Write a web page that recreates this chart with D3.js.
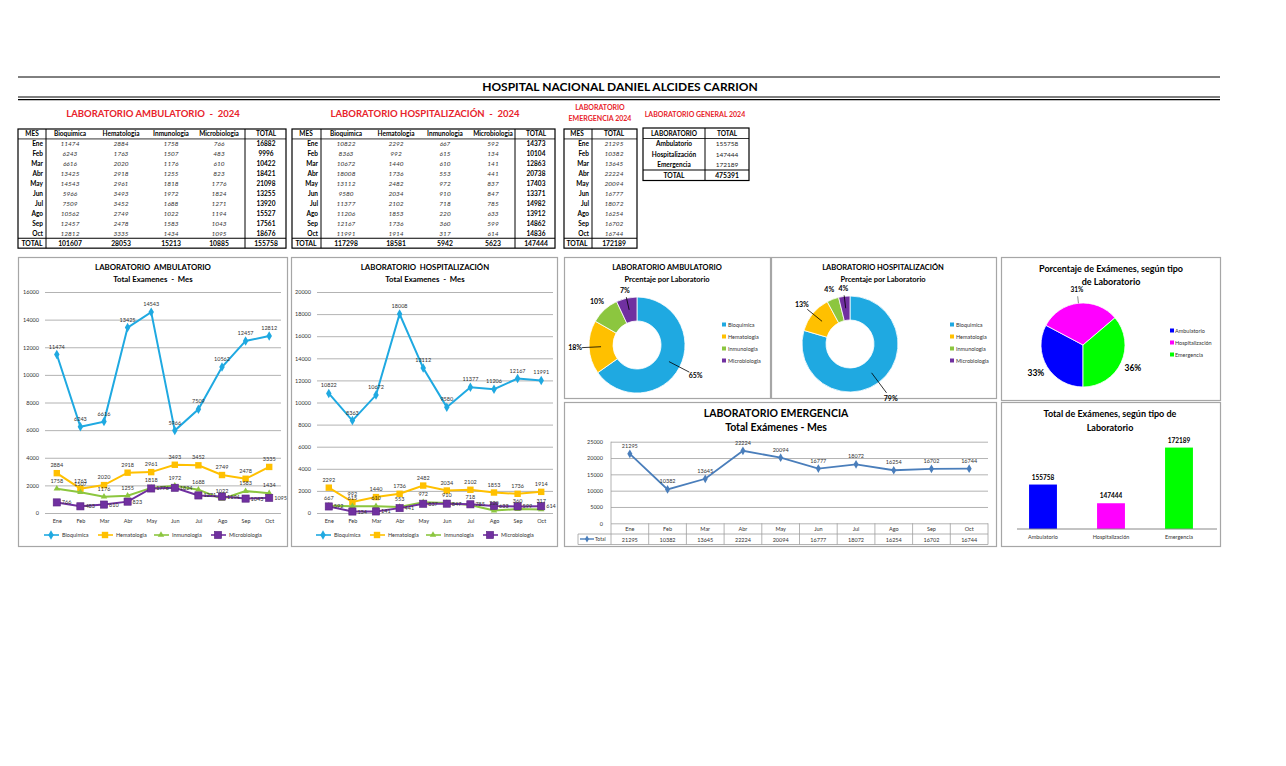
<!DOCTYPE html>
<html><head><meta charset="utf-8">
<script src="https://cdn.jsdelivr.net/npm/d3@7"></script>
<style>
body{margin:0;background:#fff;}
text{font-family:Lato,"Liberation Sans",sans-serif;white-space:pre;}
</style></head><body>
<svg id="c" width="1286" height="766"></svg>
<script>
// ---------------- DATA ----------------
const months = ["Ene","Feb","Mar","Abr","May","Jun","Jul","Ago","Sep","Oct"];
const labNames = ["Bioquimica","Hematologia","Inmunologia","Microbiologia"];

const ambBioq  = [11474,6243,6616,13425,14543,5966,7509,10562,12457,12812];
const ambHema  = [2884,1763,2020,2918,2961,3493,3452,2749,2478,3335];
const ambInmu  = [1758,1507,1176,1255,1818,1972,1688,1022,1583,1434];
const ambMicro = [766,483,610,823,1776,1824,1271,1194,1043,1095];
const ambTotal = [16882,9996,10422,18421,21098,13255,13920,15527,17561,18676];
const ambColTotals = [101607,28053,15213,10885,155758];

const hospBioq  = [10822,8363,10672,18008,13112,9580,11377,11206,12167,11991];
const hospHema  = [2292,992,1440,1736,2482,2034,2102,1853,1736,1914];
const hospInmu  = [667,615,610,553,972,910,718,220,360,317];
const hospMicro = [592,134,141,441,837,847,785,633,599,614];
const hospTotal = [14373,10104,12863,20738,17403,13371,14982,13912,14862,14836];
const hospColTotals = [117298,18581,5942,5623,147444];

const emerTotal = [21295,10382,13645,22224,20094,16777,18072,16254,16702,16744];
const emerSum = 172189;

const genLabs = ["Ambulatorio","Hospitalización","Emergencia"];
const genValues = [155758,147444,172189];
const genTotal = 475391;

const ambPct = ["65%","18%","10%","7%"];
const hospPct = ["79%","13%","4%","4%"];
const genPct = ["33%","31%","36%"];

const ambTicks = [0,2000,4000,6000,8000,10000,12000,14000,16000];
const hospTicks = [0,2000,4000,6000,8000,10000,12000,14000,16000,18000,20000];
const emerTicks = [0,5000,10000,15000,20000,25000];

// ---------------- STYLE ----------------
const labColors = ["#1fa9e1","#ffc000","#8cc63f","#7030a0"];
const genColors = ["#0000ff","#ff00ff","#00ff00"];
const RED = "#e8232b";
const svg = d3.select("#c");

// ---------------- HEADER ----------------
svg.append("line").attr("x1",18).attr("x2",1220).attr("y1",77).attr("y2",77).attr("stroke","#000").attr("stroke-width",1);
svg.append("line").attr("x1",18).attr("x2",1220).attr("y1",97).attr("y2",97).attr("stroke","#000").attr("stroke-width",1.2);
svg.append("line").attr("x1",18).attr("x2",1220).attr("y1",99.7).attr("y2",99.7).attr("stroke","#000").attr("stroke-width",1.2);
svg.append("text").attr("x",620).attr("y",91).attr("text-anchor","middle").attr("font-size",12).attr("font-weight","bold").text("HOSPITAL NACIONAL DANIEL ALCIDES CARRION");

// ---------------- TABLES ----------------
function drawLabTable(cfg){
  const g = svg.append("g");
  g.append("text").attr("x",cfg.titleX).attr("y",117).attr("text-anchor","middle").attr("fill",RED)
    .attr("font-size",9.5).attr("font-weight","bold").text(cfg.title);
  const top=129, rh=9.93;
  const y = i => top + rh*(i+1.5) + 2.3;
  const headerY = top + rh*0.5 + 2.3;
  const bottom = top + rh*12;
  g.append("rect").attr("x",cfg.left).attr("y",top).attr("width",cfg.right-cfg.left).attr("height",bottom-top)
    .attr("fill","none").attr("stroke","#000").attr("stroke-width",1.2);
  g.append("line").attr("x1",cfg.left).attr("x2",cfg.right).attr("y1",top+rh).attr("y2",top+rh).attr("stroke","#000").attr("stroke-width",0.8);
  g.append("line").attr("x1",cfg.left).attr("x2",cfg.right).attr("y1",top+rh*11).attr("y2",top+rh*11).attr("stroke","#000").attr("stroke-width",1.2);
  cfg.vlines.forEach(v=>g.append("line").attr("x1",v).attr("x2",v).attr("y1",top).attr("y2",bottom).attr("stroke","#000").attr("stroke-width",1));
  g.append("text").attr("x",cfg.mesX).attr("y",headerY).attr("text-anchor","middle").attr("font-size",6.5).attr("font-weight","bold").text("MES");
  cfg.headers.forEach((h,j)=>g.append("text").attr("x",cfg.colX[j]).attr("y",headerY).attr("text-anchor","middle").attr("font-size",6.5).attr("font-weight","bold").text(h));
  months.forEach((m,i)=>{
    g.append("text").attr("x",cfg.monthX).attr("y",y(i)).attr("text-anchor","end").attr("font-size",6.5).attr("font-weight","bold").text(m);
    cfg.cols.forEach((arr,j)=>{
      const isTot = cfg.boldLast && j===cfg.cols.length-1;
      g.append("text").attr("x",cfg.colX[j]).attr("y",y(i)).attr("text-anchor","middle").attr("font-size",6.5)
        .attr("font-style",isTot?"normal":"italic").attr("font-weight",isTot?"bold":"normal")
        .attr("fill",isTot?"#000":"#333").text(arr[i]);
    });
  });
  g.append("text").attr("x",cfg.mesX).attr("y",y(10)+0.5).attr("text-anchor","middle").attr("font-size",6.8).attr("font-weight","bold").text("TOTAL");
  cfg.totals.forEach((t,j)=>g.append("text").attr("x",cfg.colX[j]).attr("y",y(10)+0.5).attr("text-anchor","middle").attr("font-size",6.8).attr("font-weight","bold").text(t));
}
drawLabTable({title:"LABORATORIO AMBULATORIO  -  2024", titleX:153, left:18, right:286, vlines:[46,245],
  mesX:32, monthX:43, headers:labNames.concat(["TOTAL"]), colX:[70,121,171,219,266],
  cols:[ambBioq,ambHema,ambInmu,ambMicro,ambTotal], totals:ambColTotals, boldLast:true});
drawLabTable({title:"LABORATORIO HOSPITALIZACIÓN  -  2024", titleX:425, left:292, right:555, vlines:[321,515],
  mesX:306, monthX:318, headers:labNames.concat(["TOTAL"]), colX:[346,396,445,493,536],
  cols:[hospBioq,hospHema,hospInmu,hospMicro,hospTotal], totals:hospColTotals, boldLast:true});
(function(){
  svg.append("text").attr("x",600).attr("y",110).attr("text-anchor","middle").attr("fill",RED).attr("font-size",7).attr("font-weight","bold").text("LABORATORIO");
  svg.append("text").attr("x",600).attr("y",121).attr("text-anchor","middle").attr("fill",RED).attr("font-size",7).attr("font-weight","bold").text("EMERGENCIA 2024");
  const g = svg.append("g");
  const top=129, rh=9.93, left=564, right=637, div=592;
  const y = i => top + rh*(i+1.5) + 2.3;
  const bottom = top+rh*12;
  g.append("rect").attr("x",left).attr("y",top).attr("width",right-left).attr("height",bottom-top).attr("fill","none").attr("stroke","#000").attr("stroke-width",1.2);
  g.append("line").attr("x1",left).attr("x2",right).attr("y1",top+rh).attr("y2",top+rh).attr("stroke","#000").attr("stroke-width",0.8);
  g.append("line").attr("x1",left).attr("x2",right).attr("y1",top+rh*11).attr("y2",top+rh*11).attr("stroke","#000").attr("stroke-width",1.2);
  g.append("line").attr("x1",div).attr("x2",div).attr("y1",top).attr("y2",bottom).attr("stroke","#000");
  g.append("text").attr("x",577).attr("y",top+rh*0.5+2.3).attr("text-anchor","middle").attr("font-size",6.5).attr("font-weight","bold").text("MES");
  g.append("text").attr("x",614).attr("y",top+rh*0.5+2.3).attr("text-anchor","middle").attr("font-size",6.5).attr("font-weight","bold").text("TOTAL");
  months.forEach((m,i)=>{
    g.append("text").attr("x",589).attr("y",y(i)).attr("text-anchor","end").attr("font-size",6.5).attr("font-weight","bold").text(m);
    g.append("text").attr("x",614).attr("y",y(i)).attr("text-anchor","middle").attr("font-size",6.5).attr("font-style","italic").attr("fill","#333").text(emerTotal[i]);
  });
  g.append("text").attr("x",577).attr("y",y(10)+0.5).attr("text-anchor","middle").attr("font-size",6.8).attr("font-weight","bold").text("TOTAL");
  g.append("text").attr("x",614).attr("y",y(10)+0.5).attr("text-anchor","middle").attr("font-size",6.8).attr("font-weight","bold").text(emerSum);
})();
(function(){
  svg.append("text").attr("x",695).attr("y",117).attr("text-anchor","middle").attr("fill",RED).attr("font-size",7).attr("font-weight","bold").text("LABORATORIO GENERAL 2024");
  const g = svg.append("g");
  const top=128, rh=10.5, left=643, right=749, div=705;
  g.append("rect").attr("x",left).attr("y",top).attr("width",right-left).attr("height",rh*5).attr("fill","none").attr("stroke","#000").attr("stroke-width",1.2);
  g.append("line").attr("x1",left).attr("x2",right).attr("y1",top+rh).attr("y2",top+rh).attr("stroke","#000").attr("stroke-width",0.8);
  g.append("line").attr("x1",left).attr("x2",right).attr("y1",top+rh*4).attr("y2",top+rh*4).attr("stroke","#000").attr("stroke-width",1.2);
  g.append("line").attr("x1",div).attr("x2",div).attr("y1",top).attr("y2",top+rh*5).attr("stroke","#000");
  const y = i => top + rh*(i+0.5) + 2.3;
  g.append("text").attr("x",674).attr("y",y(0)).attr("text-anchor","middle").attr("font-size",6.5).attr("font-weight","bold").text("LABORATORIO");
  g.append("text").attr("x",727).attr("y",y(0)).attr("text-anchor","middle").attr("font-size",6.5).attr("font-weight","bold").text("TOTAL");
  genLabs.forEach((l,i)=>{
    g.append("text").attr("x",674).attr("y",y(i+1)).attr("text-anchor","middle").attr("font-size",6.5).attr("font-weight","bold").text(l);
    g.append("text").attr("x",727).attr("y",y(i+1)).attr("text-anchor","middle").attr("font-size",6.5).attr("fill","#222").text(genValues[i]);
  });
  g.append("text").attr("x",674).attr("y",y(4)).attr("text-anchor","middle").attr("font-size",6.8).attr("font-weight","bold").text("TOTAL");
  g.append("text").attr("x",727).attr("y",y(4)).attr("text-anchor","middle").attr("font-size",6.8).attr("font-weight","bold").text(genTotal);
})();

// ---------------- PANELS ----------------
function panel(x,y,w,h){
  svg.append("rect").attr("x",x).attr("y",y).attr("width",w).attr("height",h).attr("fill","#fff").attr("stroke","#a6a6a6").attr("stroke-width",1.2);
}
panel(18.5,257.5,269,289);
panel(291.5,257.5,266,289);
panel(564.5,257.5,206,141);
panel(771.5,257.5,225,141);
panel(1001.5,257.5,219,143);
panel(564.5,402.5,432,144);
panel(1001.5,402.5,219,144);

function marker(g,type,x,y,color){
  if(type==="diamond") g.append("path").attr("d",d3.symbol(d3.symbolDiamond,26)()).attr("transform",`translate(${x},${y})`).attr("fill",color);
  else if(type==="square") g.append("rect").attr("x",x-3.2).attr("y",y-3.2).attr("width",6.4).attr("height",6.4).attr("fill",color);
  else if(type==="bigsquare") g.append("rect").attr("x",x-3.6).attr("y",y-3.6).attr("width",7.2).attr("height",7.2).attr("fill",color).attr("stroke","#5a2580").attr("stroke-width",0.6);
  else if(type==="triangle") g.append("path").attr("d",d3.symbol(d3.symbolTriangle,18)()).attr("transform",`translate(${x},${y})`).attr("fill",color);
}
const markerTypes = ["diamond","square","triangle","bigsquare"];

function lineChart(cfg){
  const g = svg.append("g");
  g.append("text").attr("x",cfg.cx).attr("y",270).attr("text-anchor","middle").attr("font-size",7.8).attr("font-weight","bold").text(cfg.t1);
  g.append("text").attr("x",cfg.cx).attr("y",282).attr("text-anchor","middle").attr("font-size",7.8).attr("font-weight","bold").text(cfg.t2);
  const x = d3.scalePoint().domain(months).range(cfg.xr).padding(0.5);
  const y = d3.scaleLinear().domain([0,d3.max(cfg.ticks)]).range([513,292]);
  const ax = g.append("g").attr("transform",`translate(${cfg.xr[0]},0)`)
    .call(d3.axisLeft(y).tickValues(cfg.ticks).tickSize(-(cfg.xr[1]-cfg.xr[0])).tickPadding(6).tickFormat(d3.format("d")));
  ax.select(".domain").remove();
  ax.selectAll("line").attr("stroke","#a0a0a0").attr("stroke-width",0.8);
  ax.selectAll("text").attr("font-size",5.5).attr("fill","#333").style("font-family","Lato, sans-serif");
  const bx = g.append("g").attr("transform","translate(0,516)").call(d3.axisBottom(x).tickSize(0).tickPadding(3));
  bx.select(".domain").remove();
  bx.selectAll("text").attr("font-size",5.5).attr("fill","#333").style("font-family","Lato, sans-serif");
  const line = d3.line().x((d,i)=>x(months[i])).y(d=>y(d));
  cfg.series.forEach((s,k)=>{
    g.append("path").datum(s).attr("d",line).attr("fill","none").attr("stroke",labColors[k]).attr("stroke-width",2);
    s.forEach((v,i)=>marker(g,markerTypes[k],x(months[i]),y(v),labColors[k]));
  });
  cfg.series.forEach((s,k)=>{
    s.forEach((v,i)=>{
      const right = k===3;
      g.append("text").attr("x",x(months[i])+(right?5:0)).attr("y",y(v)+(right?2:-6))
        .attr("text-anchor",right?"start":"middle").attr("font-size",5.5).attr("fill","#333").text(v);
    });
  });
  cfg.legX.forEach((lx,k)=>{
    g.append("line").attr("x1",lx-7).attr("x2",lx+8).attr("y1",535).attr("y2",535).attr("stroke",labColors[k]).attr("stroke-width",1.6);
    marker(g,markerTypes[k],lx,535,labColors[k]);
    g.append("text").attr("x",lx+11).attr("y",537).attr("font-size",5.5).attr("fill","#333").text(labNames[k]);
  });
}
lineChart({cx:153,t1:"LABORATORIO  AMBULATORIO",t2:"Total Examenes  -  Mes",xr:[45,281],ticks:ambTicks,
  series:[ambBioq,ambHema,ambInmu,ambMicro],legX:[51,105,161,218]});
lineChart({cx:425,t1:"LABORATORIO  HOSPITALIZACIÓN",t2:"Total Examenes  -  Mes",xr:[317,553],ticks:hospTicks,
  series:[hospBioq,hospHema,hospInmu,hospMicro],legX:[323,377,433,490]});

// ---------------- DONUTS ----------------
function donut(cfg){
  const g = svg.append("g");
  g.append("text").attr("x",cfg.tx).attr("y",270).attr("text-anchor","middle").attr("font-size",7.5).attr("font-weight","bold").text(cfg.t1);
  g.append("text").attr("x",cfg.tx).attr("y",282).attr("text-anchor","middle").attr("font-size",7.5).attr("font-weight","bold").text("Prcentaje por Laboratorio");
  const pie = d3.pie().sort(null)(cfg.values);
  const arc = d3.arc().innerRadius(24).outerRadius(48);
  const gg = g.append("g").attr("transform",`translate(${cfg.cx},${cfg.cy})`);
  gg.selectAll("path").data(pie).join("path").attr("d",arc).attr("fill",(d,i)=>labColors[i]).attr("stroke","#fff").attr("stroke-width",0.8);
  pie.forEach((d,i)=>{
    const a = (d.startAngle+d.endAngle)/2;
    const dir = [Math.sin(a),-Math.cos(a)];
    const rl = cfg.labR[i];
    if(cfg.leader[i]){
      gg.append("line").attr("x1",dir[0]*36).attr("y1",dir[1]*36).attr("x2",dir[0]*(rl-7)).attr("y2",dir[1]*(rl-7)).attr("stroke","#000").attr("stroke-width",0.8);
    }
    gg.append("text").attr("x",dir[0]*rl).attr("y",dir[1]*rl+2.5).attr("text-anchor","middle").attr("font-size",7).attr("font-weight","bold").text(cfg.pct[i]);
  });
  labNames.forEach((n,i)=>{
    g.append("rect").attr("x",cfg.legX).attr("y",cfg.legY+i*12-2.5).attr("width",4).attr("height",4).attr("fill",labColors[i]);
    g.append("text").attr("x",cfg.legX+6).attr("y",cfg.legY+i*12+1.8).attr("font-size",5.5).attr("fill","#333").text(n);
  });
}
donut({t1:"LABORATORIO AMBULATORIO",tx:667,cx:637,cy:345,values:ambColTotals.slice(0,4),pct:ambPct,
  labR:[66,62,59,56],leader:[true,true,false,true],legX:722,legY:325});
donut({t1:"LABORATORIO HOSPITALIZACIÓN",tx:883,cx:850,cy:344,values:hospColTotals.slice(0,4),pct:hospPct,
  labR:[68,62,58,56],leader:[true,true,false,true],legX:950,legY:325});

// ---------------- PIE GENERAL ----------------
(function(){
  const g = svg.append("g");
  g.append("text").attr("x",1111).attr("y",272).attr("text-anchor","middle").attr("font-size",9).attr("font-weight","bold").text("Porcentaje de Exámenes, según tipo");
  g.append("text").attr("x",1111).attr("y",285).attr("text-anchor","middle").attr("font-size",9).attr("font-weight","bold").text("de Laboratorio");
  const pie = d3.pie().sort(null).startAngle(Math.PI).endAngle(3*Math.PI)(genValues);
  const arc = d3.arc().innerRadius(0).outerRadius(42);
  const gg = g.append("g").attr("transform","translate(1083,345)");
  gg.selectAll("path").data(pie).join("path").attr("d",arc).attr("fill",(d,i)=>genColors[i]).attr("stroke","#fff").attr("stroke-width",0.8);
  const lr = [55,56,55];
  pie.forEach((d,i)=>{
    const a=(d.startAngle+d.endAngle)/2;
    const dir=[Math.sin(a),-Math.cos(a)];
    gg.append("text").attr("x",dir[0]*lr[i]).attr("y",dir[1]*lr[i]+3).attr("text-anchor","middle")
      .attr("font-size",i===1?6.5:8.5).attr("font-weight","bold").text(genPct[i]);
    if(i===1) gg.append("line").attr("x1",dir[0]*42).attr("y1",dir[1]*42).attr("x2",dir[0]*49).attr("y2",dir[1]*49).attr("stroke","#555").attr("stroke-width",0.7);
  });
  genLabs.forEach((n,i)=>{
    g.append("rect").attr("x",1170).attr("y",331+i*12-2.5).attr("width",4).attr("height",4).attr("fill",genColors[i]);
    g.append("text").attr("x",1175).attr("y",331+i*12+1.8).attr("font-size",5.5).attr("fill","#333").text(n);
  });
})();

// ---------------- BAR GENERAL ----------------
(function(){
  const g = svg.append("g");
  g.append("text").attr("x",1110).attr("y",417).attr("text-anchor","middle").attr("font-size",9).attr("font-weight","bold").text("Total de Exámenes, según tipo de");
  g.append("text").attr("x",1110).attr("y",431).attr("text-anchor","middle").attr("font-size",9).attr("font-weight","bold").text("Laboratorio");
  const x = d3.scaleBand().domain(genLabs).range([1009,1213]).paddingInner(0.59).paddingOuter(0.295);
  const y = d3.scaleLinear().domain([136000,180000]).range([529,430]);
  g.selectAll("rect.b").data(genValues).join("rect").attr("class","b")
    .attr("x",(d,i)=>x(genLabs[i])).attr("width",x.bandwidth()).attr("y",d=>y(d)).attr("height",d=>y(136000)-y(d))
    .attr("fill",(d,i)=>genColors[i]);
  genValues.forEach((v,i)=>g.append("text").attr("x",x(genLabs[i])+x.bandwidth()/2).attr("y",y(v)-5).attr("text-anchor","middle").attr("font-size",6.5).attr("font-weight","bold").text(v));
  const ax = g.append("g").attr("transform","translate(0,529)").call(d3.axisBottom(x).tickSize(0).tickPadding(6));
  ax.select(".domain").attr("d","M1017,0H1217").attr("stroke","#888");
  ax.selectAll("text").attr("font-size",5.5).attr("fill","#333").style("font-family","Lato, sans-serif");
})();

// ---------------- EMERGENCIA LINE ----------------
(function(){
  const g = svg.append("g");
  const col = "#4a7ebb";
  g.append("text").attr("x",776).attr("y",417).attr("text-anchor","middle").attr("font-size",10.5).attr("font-weight","bold").text("LABORATORIO EMERGENCIA");
  g.append("text").attr("x",776).attr("y",431).attr("text-anchor","middle").attr("font-size",10.5).attr("font-weight","bold").text("Total Exámenes - Mes");
  const xr=[611,988];
  const x = d3.scalePoint().domain(months).range(xr).padding(0.5);
  const y = d3.scaleLinear().domain([0,25000]).range([523.3,441.7]);
  const ax = g.append("g").attr("transform",`translate(${xr[0]},0)`)
    .call(d3.axisLeft(y).tickValues(emerTicks).tickSize(-(xr[1]-xr[0])).tickPadding(8).tickFormat(d3.format("d")));
  ax.select(".domain").remove();
  ax.selectAll("line").attr("stroke","#a0a0a0").attr("stroke-width",0.8);
  ax.selectAll("text").attr("font-size",5.5).attr("fill","#333").style("font-family","Lato, sans-serif");
  g.append("line").attr("x1",xr[0]).attr("x2",xr[0]).attr("y1",441.7).attr("y2",523.3).attr("stroke","#a0a0a0").attr("stroke-width",0.8);
  const step = x.step();
  const tg = g.append("g").attr("stroke","#a0a0a0").attr("stroke-width",0.8);
  tg.append("line").attr("x1",xr[0]).attr("x2",xr[1]).attr("y1",534).attr("y2",534);
  tg.append("line").attr("x1",578).attr("x2",xr[1]).attr("y1",544.5).attr("y2",544.5);
  tg.append("line").attr("x1",578).attr("x2",xr[0]).attr("y1",534).attr("y2",534);
  tg.append("line").attr("x1",578).attr("x2",578).attr("y1",534).attr("y2",544.5);
  months.forEach((m,i)=>{
    const bx = x(m)-step/2;
    tg.append("line").attr("x1",bx).attr("x2",bx).attr("y1",523.3).attr("y2",544.5);
  });
  tg.append("line").attr("x1",xr[1]).attr("x2",xr[1]).attr("y1",523.3).attr("y2",544.5);
  months.forEach((m,i)=>{
    g.append("text").attr("x",x(m)).attr("y",531).attr("text-anchor","middle").attr("font-size",5.5).attr("fill","#333").text(m);
    g.append("text").attr("x",x(m)).attr("y",541.5).attr("text-anchor","middle").attr("font-size",5.5).attr("fill","#333").text(emerTotal[i]);
  });
  g.append("line").attr("x1",580).attr("x2",594).attr("y1",539).attr("y2",539).attr("stroke",col).attr("stroke-width",1.4);
  g.append("path").attr("d",d3.symbol(d3.symbolDiamond,14)()).attr("transform","translate(587,539)").attr("fill",col);
  g.append("text").attr("x",595).attr("y",541).attr("font-size",5).attr("fill","#333").text("Total");
  const line = d3.line().x((d,i)=>x(months[i])).y(d=>y(d));
  g.append("path").datum(emerTotal).attr("d",line).attr("fill","none").attr("stroke",col).attr("stroke-width",1.8);
  emerTotal.forEach((v,i)=>{
    g.append("path").attr("d",d3.symbol(d3.symbolDiamond,22)()).attr("transform",`translate(${x(months[i])},${y(v)})`).attr("fill",col);
    g.append("text").attr("x",x(months[i])).attr("y",y(v)-6).attr("text-anchor","middle").attr("font-size",5.5).attr("fill","#333").text(v);
  });
})();
</script>
</body></html>
